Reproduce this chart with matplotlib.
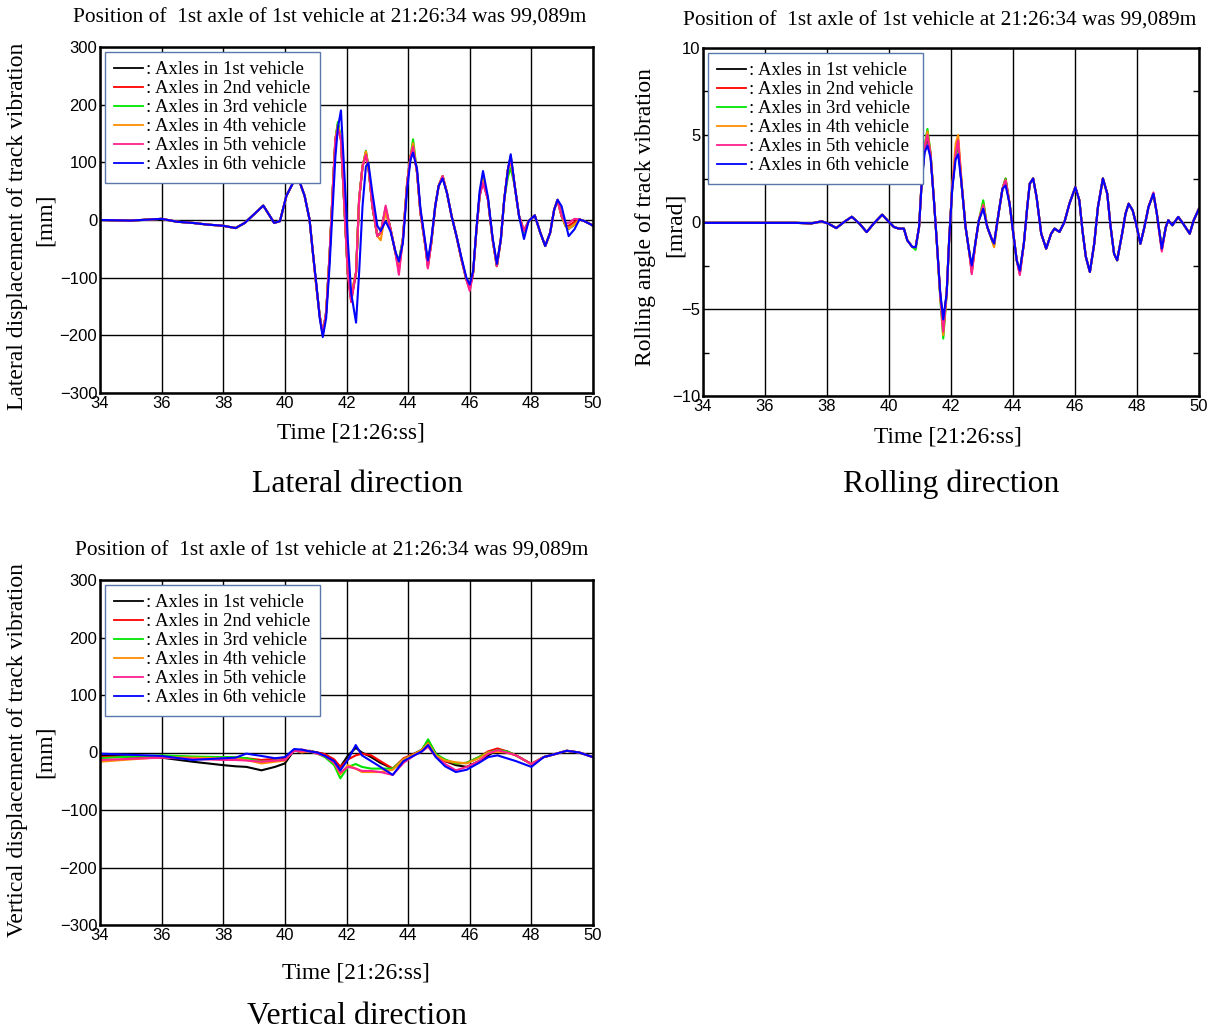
import numpy as np
import matplotlib
matplotlib.use("Agg")
import matplotlib.pyplot as plt
from matplotlib.ticker import MultipleLocator

plt.rcParams['font.family'] = ['Liberation Serif', 'DejaVu Serif']

vehicles = [': Axles in 1st vehicle', ': Axles in 2nd vehicle', ': Axles in 3rd vehicle',
            ': Axles in 4th vehicle', ': Axles in 5th vehicle', ': Axles in 6th vehicle']
colors = ['#000000', '#ff0000', '#00e600', '#ff8c00', '#ff1f8f', '#0000ff']
title_txt = "Position of  1st axle of 1st vehicle at 21:26:34 was 99,089m"
x_ticks = [34, 36, 38, 40, 42, 44, 46, 48, 50]

# lateral displacement [mm]
t_lat = [34.0, 35.0, 36.0, 36.5, 37.0, 37.5, 38.0, 38.4, 38.7, 39.0,
         39.3, 39.5, 39.65, 39.84, 40.05, 40.27, 40.48, 40.64, 40.8, 40.91,
         41.02, 41.13, 41.23, 41.34, 41.45, 41.56, 41.64, 41.72, 41.82, 41.93,
         42.04, 42.15, 42.31, 42.41, 42.52, 42.63, 42.71, 42.84, 43.0, 43.11,
         43.27, 43.43, 43.59, 43.7, 43.83, 43.97, 44.08, 44.16, 44.29, 44.4,
         44.56, 44.64, 44.75, 44.88, 44.99, 45.12, 45.26, 45.41, 45.57, 45.73,
         45.89, 46.0, 46.11, 46.21, 46.32, 46.43, 46.59, 46.74, 46.88, 47.01,
         47.12, 47.24, 47.33, 47.46, 47.6, 47.76, 47.91, 48.11, 48.29, 48.45,
         48.61, 48.74, 48.85, 48.98, 49.11, 49.21, 49.4, 49.56, 49.72, 49.94,
         50.0]
lat_1 = [0, -1, 2, -3, -5, -8, -10, -14, -5, 10,
         25, 8, -5, -2, 42, 65, 66, 42, 1, -57,
         -114, -166, -198, -160, -62, 59, 140, 166, 140, 24,
         -91, -137, -91, 36, 93, 117, 93, 24, -28, -22,
         18, -16, -57, -74, -33, 65, 111, 128, 82, 13,
         -45, -78, -40, 24, 59, 76, 47, 7, -28, -68,
         -103, -117, -91, -22, 42, 70, 36, -33, -80, -33,
         36, 88, 111, 59, 7, -19, -2, 8, -22, -45,
         -22, 18, 35, 7, -10, -15, -8, 1, -2, -8,
         -10]
lat_2 = [0, -1, 2, -3, -5, -8, -10, -14, -5, 10,
         25, 8, -5, -2, 42, 65, 66, 42, 1, -57,
         -114, -166, -198, -160, -62, 59, 140, 160, 140, 24,
         -91, -142, -91, 36, 93, 112, 93, 24, -28, -22,
         20, -16, -57, -88, -33, 65, 111, 125, 82, 13,
         -45, -82, -40, 24, 59, 76, 47, 7, -28, -68,
         -103, -121, -91, -22, 42, 66, 36, -33, -80, -33,
         36, 88, 106, 59, 7, -19, -2, 8, -22, -45,
         -22, 18, 33, 7, -10, -10, -3, 1, -2, -8,
         -10]
lat_3 = [0, -1, 2, -3, -5, -8, -10, -14, -5, 10,
         25, 8, -5, -2, 42, 65, 66, 42, 1, -57,
         -114, -166, -198, -160, -62, 59, 140, 170, 140, 24,
         -91, -132, -91, 36, 93, 120, 93, 24, -28, -22,
         22, -16, -57, -70, -33, 65, 111, 140, 82, 13,
         -45, -75, -40, 24, 59, 76, 47, 7, -28, -68,
         -103, -112, -91, -22, 42, 72, 36, -33, -80, -33,
         36, 75, 90, 59, 7, -22, -2, 8, -22, -45,
         -22, 18, 35, 7, -10, -15, -8, 1, -2, -8,
         -10]
lat_4 = [0, -1, 2, -3, -5, -8, -10, -14, -5, 10,
         25, 8, -5, -2, 42, 65, 66, 42, 1, -57,
         -114, -166, -198, -160, -62, 59, 140, 165, 140, 24,
         -91, -128, -91, 36, 93, 119, 93, 24, -28, -35,
         14, -16, -57, -76, -33, 65, 111, 133, 82, 13,
         -45, -78, -40, 24, 59, 76, 47, 7, -28, -68,
         -103, -114, -91, -22, 42, 70, 36, -33, -80, -33,
         36, 88, 102, 59, 7, -19, -2, 8, -22, -45,
         -22, 18, 35, 7, -10, -15, -8, 1, -2, -8,
         -10]
lat_5 = [0, -1, 2, -3, -5, -8, -10, -14, -5, 10,
         25, 8, -5, -2, 42, 65, 66, 42, 1, -57,
         -114, -166, -198, -160, -62, 59, 140, 158, 140, 24,
         -91, -140, -91, 36, 93, 113, 93, 24, -28, -22,
         25, -16, -57, -95, -33, 65, 111, 127, 82, 13,
         -45, -84, -40, 24, 59, 76, 47, 7, -28, -68,
         -103, -123, -91, -22, 42, 64, 36, -33, -80, -33,
         36, 88, 108, 59, 7, -19, -2, 8, -22, -45,
         -22, 18, 35, 7, -5, -5, 2, 1, -2, -8,
         -10]
lat_6 = [0, -1, 2, -3, -5, -8, -10, -14, -5, 10,
         25, 8, -5, -2, 42, 65, 66, 42, 1, -57,
         -110, -170, -203, -170, -80, 30, 110, 160, 190, 82,
         -33, -126, -178, -91, 24, 93, 99, 47, -10, -19,
         -2, -20, -55, -72, -40, 55, 105, 117, 88, 20,
         -40, -70, -35, 24, 59, 72, 47, 7, -28, -65,
         -100, -112, -88, -20, 50, 85, 40, -30, -76, -33,
         36, 88, 114, 59, 7, -33, -2, 8, -22, -45,
         -22, 18, 35, 24, -5, -28, -16, 1, -2, -8,
         -10]

# rolling angle [mrad]
t_roll = [34.0, 35.0, 36.0, 37.0, 37.5, 37.83, 38.05, 38.3, 38.55, 38.8,
          39.05, 39.28, 39.5, 39.78, 40.0, 40.16, 40.32, 40.48, 40.59, 40.75,
          40.86, 40.97, 41.05, 41.15, 41.24, 41.34, 41.45, 41.56, 41.65, 41.75,
          41.86, 41.94, 42.04, 42.15, 42.23, 42.34, 42.47, 42.58, 42.67, 42.8,
          42.9, 43.04, 43.17, 43.33, 43.39, 43.55, 43.66, 43.76, 43.89, 44.01,
          44.12, 44.22, 44.35, 44.46, 44.54, 44.65, 44.76, 44.91, 45.07, 45.23,
          45.34, 45.5, 45.66, 45.82, 46.01, 46.14, 46.24, 46.35, 46.48, 46.62,
          46.74, 46.9, 47.04, 47.15, 47.26, 47.36, 47.52, 47.63, 47.73, 47.86,
          47.97, 48.11, 48.24, 48.37, 48.53, 48.64, 48.8, 48.93, 49.01, 49.14,
          49.33, 49.49, 49.7, 49.83, 50.0]
roll_1 = [-0.05, -0.05, -0.05, -0.05, -0.08, 0.04, -0.1, -0.35, 0.0, 0.3,
          -0.1, -0.58, -0.1, 0.42, 0.0, -0.29, -0.38, -0.38, -1.05, -1.43,
          -1.45, -0.29, 2.2, 4.3, 4.8, 3.9, 1.24, -1.62, -4.1, -5.8,
          -4.1, -1.05, 2.0, 3.9, 4.4, 2.2, -0.29, -1.62, -2.7, -1.05,
          0.1, 0.9, -0.29, -1.05, -1.24, 0.67, 1.9, 2.4, 1.05, -0.67,
          -2.2, -2.86, -1.24, 0.86, 2.2, 2.5, 1.44, -0.67, -1.53, -0.67,
          -0.38, -0.57, 0.0, 1.05, 2.0, 1.25, -0.48, -2.0, -2.87, -1.25,
          0.86, 2.5, 1.63, -0.29, -1.82, -2.2, -0.67, 0.48, 1.05, 0.67,
          -0.1, -1.25, -0.29, 0.86, 1.63, 0.48, -1.53, -0.29, 0.1, -0.19,
          0.29, -0.1, -0.67, 0.1, 0.77]
roll_2 = [-0.05, -0.05, -0.05, -0.05, -0.08, 0.04, -0.1, -0.35, 0.0, 0.3,
          -0.1, -0.58, -0.1, 0.42, 0.0, -0.29, -0.38, -0.38, -1.05, -1.43,
          -1.45, -0.29, 2.2, 4.3, 5.1, 3.9, 1.24, -1.62, -4.1, -6.2,
          -4.1, -1.05, 2.0, 3.9, 4.7, 2.2, -0.29, -1.62, -2.9, -1.05,
          0.1, 1.1, -0.29, -1.05, -1.24, 0.67, 1.9, 2.5, 1.05, -0.67,
          -2.2, -3.0, -1.24, 0.86, 2.2, 2.5, 1.44, -0.67, -1.53, -0.67,
          -0.38, -0.57, 0.0, 1.05, 2.0, 1.25, -0.48, -2.0, -2.87, -1.25,
          0.86, 2.5, 1.63, -0.29, -1.82, -2.2, -0.67, 0.48, 1.05, 0.67,
          -0.1, -1.25, -0.29, 0.86, 1.63, 0.48, -1.6, -0.29, 0.1, -0.19,
          0.29, -0.1, -0.67, 0.1, 0.77]
roll_3 = [-0.05, -0.05, -0.05, -0.05, -0.08, 0.04, -0.1, -0.35, 0.0, 0.3,
          -0.1, -0.58, -0.1, 0.42, 0.0, -0.29, -0.38, -0.38, -1.05, -1.43,
          -1.6, -0.29, 2.2, 4.4, 5.35, 4.0, 1.24, -1.62, -4.3, -6.7,
          -4.2, -1.05, 2.0, 3.9, 4.5, 2.2, -0.29, -1.62, -2.8, -1.05,
          0.1, 1.25, -0.29, -1.1, -1.4, 0.67, 1.9, 2.5, 1.05, -0.67,
          -2.2, -2.86, -1.24, 0.86, 2.2, 2.5, 1.44, -0.67, -1.53, -0.67,
          -0.38, -0.57, 0.0, 1.05, 2.0, 1.25, -0.48, -2.0, -2.87, -1.25,
          0.86, 2.5, 1.63, -0.29, -1.82, -2.2, -0.67, 0.48, 1.05, 0.67,
          -0.1, -1.25, -0.29, 0.86, 1.63, 0.48, -1.53, -0.29, 0.1, -0.19,
          0.29, -0.1, -0.67, 0.1, 0.77]
roll_4 = [-0.05, -0.05, -0.05, -0.05, -0.08, 0.04, -0.1, -0.35, 0.0, 0.3,
          -0.1, -0.58, -0.1, 0.42, 0.0, -0.29, -0.38, -0.38, -1.05, -1.43,
          -1.45, -0.29, 2.2, 4.3, 5.2, 3.9, 1.24, -1.62, -4.2, -6.5,
          -4.1, -1.05, 2.1, 4.5, 5.0, 2.4, -0.29, -1.62, -2.8, -1.05,
          0.1, 1.0, -0.29, -1.1, -1.45, 0.67, 1.9, 2.4, 1.05, -0.67,
          -2.2, -2.86, -1.24, 0.86, 2.2, 2.5, 1.44, -0.67, -1.53, -0.67,
          -0.38, -0.57, 0.0, 1.05, 2.0, 1.25, -0.48, -2.0, -2.87, -1.25,
          0.86, 2.5, 1.63, -0.29, -1.82, -2.2, -0.67, 0.48, 1.05, 0.67,
          -0.1, -1.25, -0.29, 0.86, 1.63, 0.48, -1.53, -0.29, 0.1, -0.19,
          0.29, -0.1, -0.67, 0.1, 0.77]
roll_5 = [-0.05, -0.05, -0.05, -0.05, -0.08, 0.04, -0.1, -0.35, 0.0, 0.3,
          -0.1, -0.58, -0.1, 0.42, 0.0, -0.29, -0.38, -0.38, -1.05, -1.43,
          -1.45, -0.29, 2.2, 4.3, 5.0, 3.9, 1.24, -1.62, -4.1, -6.3,
          -4.1, -1.05, 2.0, 3.9, 4.7, 2.2, -0.29, -1.62, -3.0, -1.05,
          0.1, 0.95, -0.29, -1.05, -1.24, 0.67, 1.9, 2.4, 1.05, -0.67,
          -2.2, -3.05, -1.24, 0.86, 2.2, 2.5, 1.44, -0.67, -1.53, -0.67,
          -0.38, -0.57, 0.0, 1.05, 2.0, 1.25, -0.48, -2.0, -2.87, -1.25,
          0.86, 2.5, 1.63, -0.29, -1.82, -2.2, -0.67, 0.48, 1.05, 0.67,
          -0.1, -1.25, -0.29, 0.86, 1.7, 0.48, -1.7, -0.29, 0.1, -0.19,
          0.29, -0.1, -0.67, 0.1, 0.77]
roll_6 = [-0.05, -0.05, -0.05, -0.05, -0.08, 0.04, -0.1, -0.35, 0.0, 0.3,
          -0.1, -0.58, -0.1, 0.42, 0.0, -0.29, -0.38, -0.38, -1.05, -1.43,
          -1.45, -0.29, 2.1, 4.0, 4.4, 3.7, 1.24, -1.62, -4.0, -5.6,
          -4.1, -1.05, 1.9, 3.6, 3.9, 2.2, -0.29, -1.62, -2.5, -1.05,
          0.1, 0.76, -0.29, -1.05, -1.24, 0.67, 1.9, 2.1, 1.05, -0.67,
          -2.2, -2.8, -1.24, 0.86, 2.2, 2.5, 1.44, -0.67, -1.53, -0.67,
          -0.38, -0.57, 0.0, 1.05, 2.0, 1.25, -0.48, -2.0, -2.87, -1.25,
          0.86, 2.5, 1.63, -0.29, -1.82, -2.2, -0.67, 0.48, 1.05, 0.67,
          -0.1, -1.25, -0.29, 0.86, 1.63, 0.48, -1.53, -0.29, 0.1, -0.19,
          0.29, -0.1, -0.67, 0.1, 0.77]

# vertical displacement [mm]
t_vert = [34.0, 35.0, 36.0, 37.0, 38.0, 38.4, 38.75, 39.24, 39.68, 40.0,
          40.3, 40.55, 40.8, 41.05, 41.3, 41.6, 41.8, 42.05, 42.3, 42.5,
          42.8, 43.1, 43.5, 43.85, 44.2, 44.45, 44.65, 44.9, 45.2, 45.55,
          45.9, 46.3, 46.6, 46.9, 47.2, 47.5, 48.0, 48.4, 48.75, 49.15,
          49.55, 50.0]
vert_1 = [-5, -7, -9, -16, -22, -24, -25, -31, -25, -19, 4, 0, 3, 0, -3, -15, -25, -5, 8, 0,
          -8, -18, -28, -15, -2, 5, 20, -2, -15, -22, -25, -15, -5, 5, 2, -5, -20, -8, -3, 3, 0, -8]
vert_2 = [-8, -7, -6, -8, -8, -9, -10, -13, -11, -9, 3, 5, 2, 0, -3, -12, -25, -12, -5, -2,
          -5, -15, -28, -10, -2, 3, 18, -5, -15, -19, -18, -8, 2, 7, 2, -5, -20, -8, -3, 3, 0, -8]
vert_3 = [-10, -7, -5, -7, -8, -8, -10, -16, -14, -13, 5, 3, 2, -2, -8, -22, -45, -25, -20, -25,
          -28, -28, -28, -12, -3, 5, 23, -3, -12, -19, -18, -8, 0, 4, 2, -5, -20, -8, -3, 3, 0, -8]
vert_4 = [-16, -12, -8, -9, -10, -11, -13, -19, -16, -14, 5, 0, 3, -2, -6, -18, -38, -22, -28, -34,
          -34, -34, -30, -12, -3, 5, 16, -5, -14, -17, -19, -10, 0, 1, 0, -5, -20, -8, -3, 3, 0, -8]
vert_5 = [-13, -11, -9, -11, -13, -13, -14, -16, -14, -13, 3, 2, 2, -2, -6, -18, -35, -25, -28, -32,
          -32, -34, -39, -18, -5, 2, 10, -8, -20, -31, -25, -15, -2, 4, 0, -5, -20, -8, -3, 3, 0, -8]
vert_6 = [-2, -4, -6, -13, -10, -9, -2, -6, -10, -8, 6, 5, 2, 0, -6, -15, -31, -12, 13, -5,
          -15, -25, -39, -15, -5, 2, 13, -8, -24, -34, -30, -18, -8, -5, -10, -15, -25, -8, -3, 3, 0, -8]

lat = [lat_1, lat_2, lat_3, lat_4, lat_5, lat_6]
roll = [roll_1, roll_2, roll_3, roll_4, roll_5, roll_6]
vert = [vert_1, vert_2, vert_3, vert_4, vert_5, vert_6]

fig = plt.figure(figsize=(12.17, 10.34), dpi=100)
W, H = 1217, 1034


def px_axes(l, t, r, b):
    return fig.add_axes([l / W, 1 - b / H, (r - l) / W, (b - t) / H])


def setup(ax, t, series, ylim, yticks, yminor=None):
    for ys, c, lab in zip(series, colors, vehicles):
        ax.plot(t, ys, color=c, lw=1.5, label=lab)
    ax.set_xlim(34, 50)
    ax.set_ylim(*ylim)
    ax.set_xticks(x_ticks)
    ax.set_yticks(yticks)
    if yminor:
        ax.yaxis.set_minor_locator(MultipleLocator(yminor))
        ax.tick_params(axis='y', which='minor', direction='in', length=4, right=True, width=1)
    ax.grid(True, color='black', lw=1.0)
    ax.tick_params(which='major', length=0, pad=2, labelsize=12)
    for lb in ax.get_xticklabels() + ax.get_yticklabels():
        lb.set_family('Liberation Sans')
    for s in ax.spines.values():
        s.set_linewidth(1.8)
    leg = ax.legend(loc='upper left', fontsize=13.5, handlelength=1.55, handletextpad=0.15,
                    labelspacing=0.1, borderpad=0.5, borderaxespad=0.25, fancybox=False,
                    framealpha=1, edgecolor='#5a78aa')
    leg.get_frame().set_linewidth(1.0)
    for ln in leg.get_lines():
        ln.set_linewidth(1.3)


def ftext(x, y, s, **kw):
    fig.text(x / W, 1 - y / H, s, ha='center', va='center', **kw)


ax1 = px_axes(100, 47, 593, 393)
setup(ax1, t_lat, lat, (-300, 300), [-300, -200, -100, 0, 100, 200, 300])
ax2 = px_axes(703, 48, 1199, 396)
setup(ax2, t_roll, roll, (-10, 10), [-10, -5, 0, 5, 10], yminor=2.5)
ax3 = px_axes(100, 580, 593, 925)
setup(ax3, t_vert, vert, (-300, 300), [-300, -200, -100, 0, 100, 200, 300])

ftext(330, 18, title_txt, fontsize=15.4)
ftext(940, 21, title_txt, fontsize=15.4)
ftext(332, 551, title_txt, fontsize=15.4)

ftext(351, 433, "Time [21:26:ss]", fontsize=16.8)
ftext(948, 437, "Time [21:26:ss]", fontsize=16.8)
ftext(356, 973, "Time [21:26:ss]", fontsize=16.8)

ftext(18, 226, "Lateral displacement of track vibration", fontsize=17, rotation=90)
ftext(45, 220, "[mm]", fontsize=17, rotation=90)
ftext(645, 217, "Rolling angle of track vibration", fontsize=17, rotation=90)
ftext(675, 225, "[mrad]", fontsize=17, rotation=90)
ftext(18, 750, "Vertical displacement of track vibration", fontsize=17, rotation=90)
ftext(45, 752, "[mm]", fontsize=17, rotation=90)

ftext(357, 484, "Lateral direction", fontsize=22.9)
ftext(951, 484, "Rolling direction", fontsize=22.9)
ftext(357, 1017, "Vertical direction", fontsize=22.9)

fig.savefig("out.png", dpi=100)
